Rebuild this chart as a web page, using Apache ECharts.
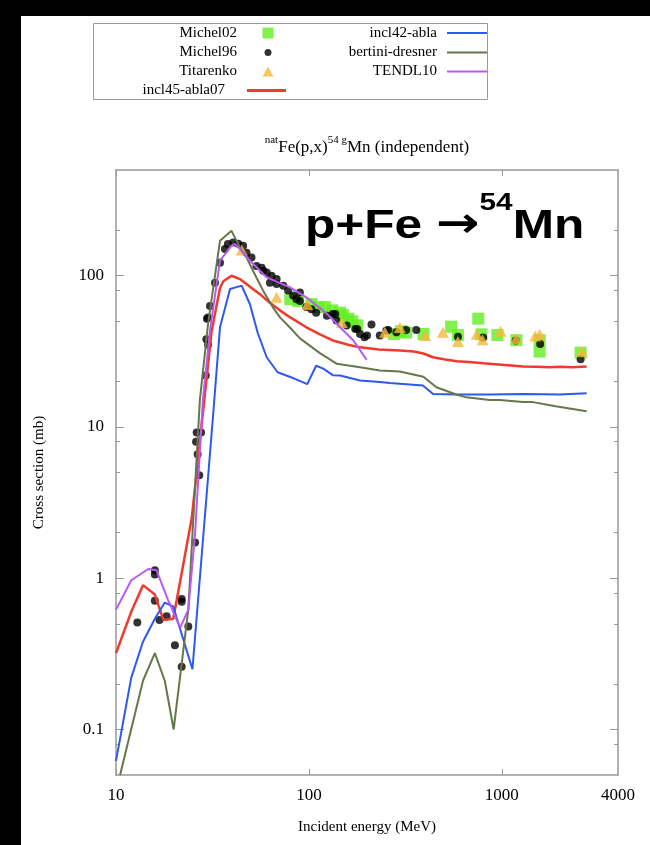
<!DOCTYPE html>
<html><head><meta charset="utf-8">
<script src="https://cdn.jsdelivr.net/npm/echarts@6/dist/echarts.min.js"></script>
<style>html,body{margin:0;padding:0;background:#000;}#c{position:absolute;left:0;top:0;width:650px;height:845px;}</style>
</head><body><div id="c"></div>
<script>
// ---------- data (incident energy MeV, cross section mb) ----------
const michel02 = [[80,70],[88,68],[103,65],[112,62],[121,62],[132,59],[145,57],[150,55],[160,52],[168,50],[178,47],
  [276,41.2],[300,43],[319,42],[392,41.2],[546,46],[592,40.5],[755,52],[784,41],[948,40.5],[1190,37.5],[1570,37.5],[1570,31.5],[2560,31]];
const michel96 = [[12.9,0.51],[15.9,1.13],[15.9,1.06],[15.9,0.71],[16.8,0.53],[18.3,0.56],[20.2,0.36],[21.9,0.73],[21.9,0.70],[21.9,0.26],[23.7,0.48],
  [25.7,1.72],[26.0,8.0],[26.2,9.2],[26.5,6.6],[27.0,4.8],[27.6,9.2],[29.2,21.9],[29.4,38],[29.6,52],[30,35],[30,53],[30.7,63],[32.6,90],
  [34.6,122],[36.7,150],[38,162],[40.5,166],[43,163],[45.6,158],[47.5,142],[50.4,132],[53.5,116],[56.9,113],[58,108],[60.4,105],[62.8,90],
  [64,100],[68,95],[68,88],[73.7,86],[78,80],[82.8,74],[86.3,70],[89.8,77.6],[89.8,68],[97,62],[103,60],[109,57],[124,54.4],[133,55.8],
  [137,55.8],[139,50.5],[157,46.8],[174,44.5],[178,44.5],[184,41.2],[194,39.2],[200,40.2],[211,47.5],[233,40.2],[252,43.4],[258,43.8],
  [284,42.3],[319,43.8],[360,43.8],[592,39.5],[800,39],[1180,37.3],[1580,35.4],[2560,28]];
const titarenko = [[44.8,148],[68,72],[98,64.5],[148,49],[248,42.3],[296,45.5],[400,40.2],[495,42.3],[592,36.8],[742,41],[794,37.7],
  [985,43],[1185,38.5],[1490,40],[1570,41],[2600,31.4]];
const incl45 = [[10,0.32],[12,0.6],[13.8,0.9],[15.9,0.78],[17.6,0.53],[19.8,0.54],[21.5,0.95],[24.7,2.5],[31.3,43],[34.6,83],[36,92],
  [39.7,100],[43.9,95],[51,82],[56,75],[63,66],[71,58.8],[80,53],[97,45.6],[114,41],[133,37.3],[160,35],[184,33.6],[230,32.5],[296,32],
  [350,31.5],[392,30.6],[440,28.9],[500,28],[585,27.2],[700,26.8],[800,26.4],[1000,25.8],[1290,25.1],[1500,25],[1770,24.8],[2000,25],
  [2300,24.8],[2750,25.1]];
const incl42 = [[10,0.062],[12,0.22],[13.8,0.38],[15.9,0.54],[17.9,0.69],[19.8,0.65],[24.9,0.25],[27.2,1.0],[31.8,11.6],[34.6,45.6],
  [39,81.7],[44.8,86],[49.4,65],[54.4,41.5],[60.4,28.9],[68.8,23],[84,20.9],[98,19.2],[109,25.4],[118.6,24.3],[133,22],[145,21.9],
  [184,20.3],[233,19.8],[263,19.5],[390,18.8],[440,16.5],[600,16.4],[866,16.4],[1300,16.5],[2000,16.4],[2750,16.7]];
const bertini = [[10.5,0.05],[13.8,0.21],[15.9,0.32],[17.9,0.21],[19.9,0.10],[23.7,0.62],[27.2,15],[30,48],[34.6,170],[39.7,198],
  [44.8,146],[47.5,132],[53.5,97],[57.8,80],[64.9,62],[70.8,53],[82.5,43.4],[89.8,38.5],[114,30.8],[139,26.2],[184,24.8],[233,23.6],
  [296,23.3],[392,21.5],[458,18.3],[580,16.4],[655,15.7],[866,15.1],[975,15.1],[1290,14.6],[1450,14.6],[1900,13.7],[2750,12.7]];
const tendl10 = [[10,0.62],[12,0.97],[14.7,1.15],[16.2,1.13],[18.6,0.72],[21.5,0.47],[23.7,0.62],[25.7,1.98],[28.2,15],[30.7,43.4],
  [34.6,126],[39.7,158],[41.4,162],[44.8,146],[49.4,126],[60.4,97.5],[79.8,83.7],[97,72],[124,56],[145,45.6],[170,37.3],[180,33.6],[199,27.8]];

const xMajorTicks = [10, 100, 1000];
const xTickLabels = [10, 100, 1000, 4000];
const yMajorTicks = [0.1, 1, 10, 100];
const yMinorTicks = [0.08, 0.2, 0.5, 0.8, 2, 5, 8, 20, 50, 80, 200];

// ---------- styling ----------
const SERIF = 'Liberation Serif, DejaVu Serif, serif';
const SANS = 'Liberation Sans, DejaVu Sans, sans-serif';
const AX = '#999999';
const C = {m02:'#62ee22', m96:'#000000', tit:'#f5b83a', red:'#ef3a2d', blue:'#2d58f2', olive:'#66774a', purple:'#b85af2'};
const fmt = v => String(+(+v).toPrecision(6));

function axisBase(pos, ticks, len, labels, extra) {
  return Object.assign({
    type: 'log', logBase: 10, position: pos,
    axisLine: {show: true, onZero: false, lineStyle: {color: AX, width: 1.5}},
    axisTick: {show: true, inside: true, length: len, customValues: ticks, lineStyle: {color: AX, width: 1}},
    axisLabel: labels ? {customValues: labels, formatter: fmt, color: '#000', fontFamily: SERIF, fontSize: 17, margin: 12}
                      : {show: false},
    splitLine: {show: false}, minorTick: {show: false}
  }, extra || {});
}
const xr = {min: 10, max: 4000};
const yr = {min: 0.05, max: 500};

function leg(name, right, top, icon, w, h, pad) {
  return {
    data: [name], orient: 'vertical', align: 'right', right: right, top: top, padding: 0,
    icon: icon, itemWidth: w, itemHeight: h, selectedMode: false,
    itemStyle: {borderWidth: 0},
    textStyle: {fontFamily: SERIF, fontSize: 15, color: '#000', lineHeight: 17, padding: [0, pad, 0, 0]}
  };
}

const chart = echarts.init(document.getElementById('c'), null, {renderer: 'canvas'});
chart.setOption({
  backgroundColor: '#000',
  animation: false,
  grid: {left: 116, top: 170, right: 32, bottom: 70, containLabel: false},
  xAxis: [
    axisBase('bottom', xMajorTicks, 6, xTickLabels, Object.assign({name: 'Incident energy (MeV)', nameLocation: 'middle', nameGap: 45,
      nameTextStyle: {fontFamily: SERIF, fontSize: 15, color: '#000'}}, xr)),
    axisBase('top', xMajorTicks, 6, null, xr)
  ],
  yAxis: [
    axisBase('left', yMajorTicks, 8, yMajorTicks, Object.assign({name: 'Cross section (mb)', nameLocation: 'middle', nameGap: 69,
      nameTextStyle: {fontFamily: SERIF, fontSize: 15, color: '#000'}}, yr)),
    axisBase('left', yMinorTicks, 4, null, Object.assign({axisLine: {show: false}}, yr)),
    axisBase('right', yMajorTicks, 8, null, yr),
    axisBase('right', yMinorTicks, 4, null, Object.assign({axisLine: {show: false}}, yr))
  ],
  legend: [
    leg('Michel02', 376.5, 24.5, 'rect', 11, 11, 20.5),
    leg('Michel96', 378.5, 44, 'circle', 7, 7, 22.5),
    leg('Titarenko', 376.5, 63, 'triangle', 11, 10, 20.5),
    leg('incl45-abla07', 364, 82, 'rect', 39, 3, 17),
    leg('incl42-abla', 163, 24.5, 'rect', 40, 2, 5),
    leg('bertini-dresner', 163, 44, 'rect', 40, 2, 5),
    leg('TENDL10', 163, 63, 'rect', 40, 2, 5)
  ],
  graphic: [
    {type: 'rect', z: -100, shape: {x: 21, y: 16, width: 629, height: 829}, style: {fill: '#fff'}},
    {type: 'rect', z: 10, shape: {x: 93.5, y: 23.5, width: 394, height: 76}, style: {fill: 'none', stroke: '#9a9a9a', lineWidth: 1}},
    {type: 'text', z: 10, x: 367, y: 135, style: {
      text: '{s|nat}{n|Fe(p,x)}{s|54 g}{n|Mn (independent)}', align: 'center', verticalAlign: 'top',
      rich: {n: {fontFamily: SERIF, fontSize: 17, lineHeight: 26, verticalAlign: 'middle', fill: '#000'},
             s: {fontFamily: SERIF, fontSize: 11, lineHeight: 14, verticalAlign: 'top', fill: '#000'}}}},
    {type: 'text', z: 10, x: 305, y: 191, scaleX: 1.24, style: {
      text: '{a|p+Fe }{r|\u2192}{s|54}{a|Mn}', align: 'left', verticalAlign: 'top',
      rich: {a: {fontFamily: SANS, fontWeight: 'bold', fontSize: 40, lineHeight: 56, verticalAlign: 'bottom', fill: '#000'},
             r: {fontFamily: 'DejaVu Sans', fontWeight: 'bold', fontSize: 42, lineHeight: 56, verticalAlign: 'bottom', fill: '#000'},
             s: {fontFamily: SANS, fontWeight: 'bold', fontSize: 24, lineHeight: 20, verticalAlign: 'top', fill: '#000'}}}}
  ],
  series: [
    {name: 'Michel02', type: 'scatter', data: michel02, symbol: 'rect', symbolSize: 12, itemStyle: {color: C.m02}},
    {name: 'Michel96', type: 'scatter', data: michel96, symbol: 'circle', symbolSize: 8, itemStyle: {color: C.m96}},
    {name: 'Titarenko', type: 'scatter', data: titarenko, symbol: 'triangle', symbolSize: [12, 11], itemStyle: {color: C.tit}},
    {name: 'incl45-abla07', type: 'line', data: incl45, symbol: 'none', itemStyle: {color: C.red}, lineStyle: {color: C.red, width: 2.5}},
    {name: 'incl42-abla', type: 'line', data: incl42, symbol: 'none', itemStyle: {color: C.blue}, lineStyle: {color: C.blue, width: 2}},
    {name: 'bertini-dresner', type: 'line', data: bertini, symbol: 'none', itemStyle: {color: C.olive}, lineStyle: {color: C.olive, width: 2}},
    {name: 'TENDL10', type: 'line', data: tendl10, symbol: 'none', itemStyle: {color: C.purple}, lineStyle: {color: C.purple, width: 2}}
  ]
});
</script></body></html>
